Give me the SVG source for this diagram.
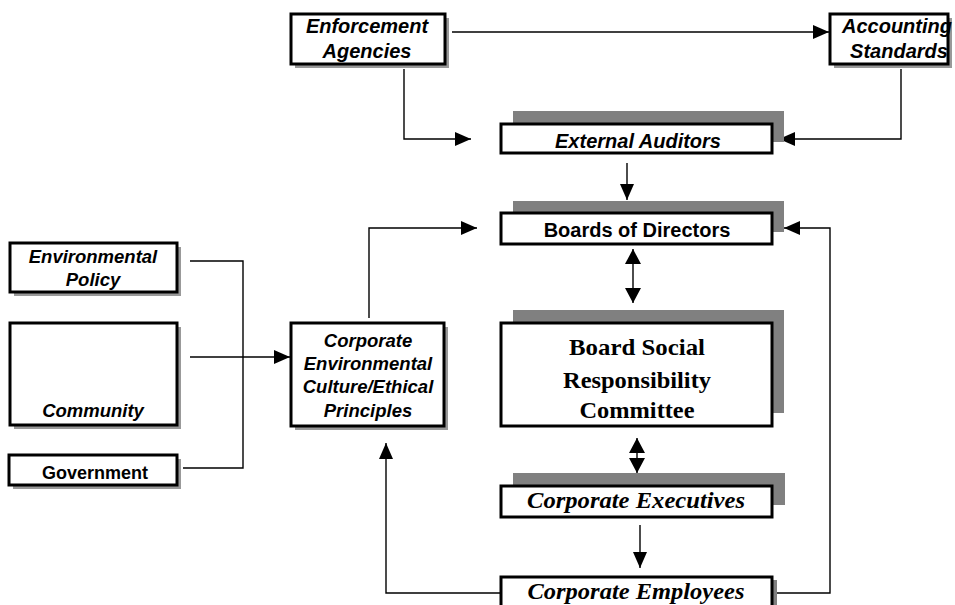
<svg xmlns="http://www.w3.org/2000/svg" width="955" height="605" viewBox="0 0 955 605">
<defs>
<style>
.box{fill:#fff;stroke:#000;stroke-width:3}
.sh{fill:#808080}
.ss{fill:#999}
.ln{fill:none;stroke:#000;stroke-width:1.4}
.sa{font-family:"Liberation Sans",Arial,sans-serif;font-weight:bold;font-style:italic;font-size:20px;text-anchor:middle;fill:#000}
.sb{font-family:"Liberation Sans",Arial,sans-serif;font-weight:bold;font-size:20px;text-anchor:middle;fill:#000}
.sl{font-family:"Liberation Sans",Arial,sans-serif;font-weight:bold;font-style:italic;font-size:18.5px;text-anchor:middle;fill:#000}
.tb{font-family:"Liberation Serif","Times New Roman",serif;font-weight:bold;font-size:23px;text-anchor:middle;fill:#000}
.ti{font-family:"Liberation Serif","Times New Roman",serif;font-weight:bold;font-style:italic;font-size:23px;text-anchor:middle;fill:#000}
</style>
<marker id="ah" markerUnits="userSpaceOnUse" markerWidth="17" markerHeight="15" refX="16" refY="7" orient="auto-start-reverse" viewBox="0 0 17 15">
<path d="M0,0 L16,7 L0,14 z" fill="#000"/>
</marker>
<marker id="ahb" markerUnits="userSpaceOnUse" markerWidth="17" markerHeight="18" refX="15" refY="8" orient="auto-start-reverse" viewBox="0 0 17 18">
<path d="M0,0 L15,8 L0,16 z" fill="#000"/>
</marker>
</defs>
<rect width="955" height="605" fill="#fff"/>

<g id="connectors">
<path class="ln" d="M452,32 H829" marker-end="url(#ah)"/>
<path class="ln" d="M404,69 V139 H471" marker-end="url(#ah)"/>
<path class="ln" d="M901,69 V139 H779" marker-end="url(#ah)"/>
<path class="ln" d="M627,163 V200" marker-end="url(#ah)"/>
<path class="ln" d="M369,318 V228 H477" marker-end="url(#ah)"/>
<path class="ln" d="M776,593 H830 V228 H784" marker-end="url(#ah)"/>
<path class="ln" d="M500,593 H386 V443" marker-end="url(#ah)"/>
<path class="ln" d="M633,249 V303" marker-start="url(#ahb)" marker-end="url(#ahb)"/>
<path class="ln" d="M637,438 V473" marker-start="url(#ahb)" marker-end="url(#ahb)"/>
<path class="ln" d="M640,525 V568" marker-end="url(#ah)"/>
<path class="ln" d="M190,261 H243 V468 H183"/>
<path class="ln" d="M190,357 H290" marker-end="url(#ah)"/>
</g>

<g id="enforcement">
<rect class="ss" x="295" y="18" width="154" height="50"/>
<rect class="box" x="291" y="14" width="154" height="50"/>
<text class="sa" x="367" y="33">Enforcement</text>
<text class="sa" x="367" y="58">Agencies</text>
</g>

<g id="accounting">
<rect class="ss" x="834" y="18" width="118" height="50"/>
<rect class="box" x="830" y="14" width="118" height="50"/>
<text class="sa" x="897" y="33">Accounting</text>
<text class="sa" x="899" y="58">Standards</text>
</g>

<g id="external-auditors">
<rect class="sh" x="513" y="111" width="271" height="31"/>
<rect class="box" x="501" y="124" width="271" height="29"/>
<text class="sa" x="638" y="148">External Auditors</text>
</g>

<g id="boards">
<rect class="sh" x="513" y="201" width="271" height="31"/>
<rect class="box" x="501" y="213" width="271" height="31"/>
<text class="sb" x="637" y="237">Boards of Directors</text>
</g>

<g id="bsrc">
<rect class="sh" x="513" y="310" width="271" height="103"/>
<rect class="box" x="501" y="323" width="271" height="103"/>
<text class="tb" x="637" y="355" textLength="136" lengthAdjust="spacingAndGlyphs">Board Social</text>
<text class="tb" x="637" y="388" textLength="148" lengthAdjust="spacingAndGlyphs">Responsibility</text>
<text class="tb" x="637" y="418" textLength="115" lengthAdjust="spacingAndGlyphs">Committee</text>
</g>

<g id="executives">
<rect class="sh" x="513" y="473" width="272" height="32"/>
<rect class="box" x="501" y="486" width="271" height="31"/>
<text class="ti" x="636" y="508" textLength="218" lengthAdjust="spacingAndGlyphs">Corporate Executives</text>
</g>

<g id="employees">
<rect class="sh" x="773" y="580" width="4" height="30"/>
<rect class="box" x="501" y="577" width="271" height="40"/>
<text class="ti" x="636" y="599" textLength="217" lengthAdjust="spacingAndGlyphs">Corporate Employees</text>
</g>

<g id="environmental-policy">
<rect class="ss" x="14" y="247" width="167" height="49"/>
<rect class="box" x="10" y="243" width="167" height="49"/>
<text class="sl" x="93" y="263">Environmental</text>
<text class="sl" x="93" y="286">Policy</text>
</g>

<g id="community">
<rect class="ss" x="14" y="327" width="167" height="102"/>
<rect class="box" x="10" y="323" width="167" height="102"/>
<text class="sl" x="93" y="417">Community</text>
</g>

<g id="government">
<rect class="ss" x="13" y="459" width="168" height="30"/>
<rect class="box" x="9" y="455" width="168" height="30"/>
<text class="sb" x="95" y="479" style="font-size:18px">Government</text>
</g>

<g id="corporate-culture">
<rect class="ss" x="295" y="327" width="153" height="103"/>
<rect class="box" x="291" y="323" width="153" height="103"/>
<text class="sl" x="368" y="347">Corporate</text>
<text class="sl" x="368" y="370">Environmental</text>
<text class="sl" x="368" y="393">Culture/Ethical</text>
<text class="sl" x="368" y="417">Principles</text>
</g>
</svg>
